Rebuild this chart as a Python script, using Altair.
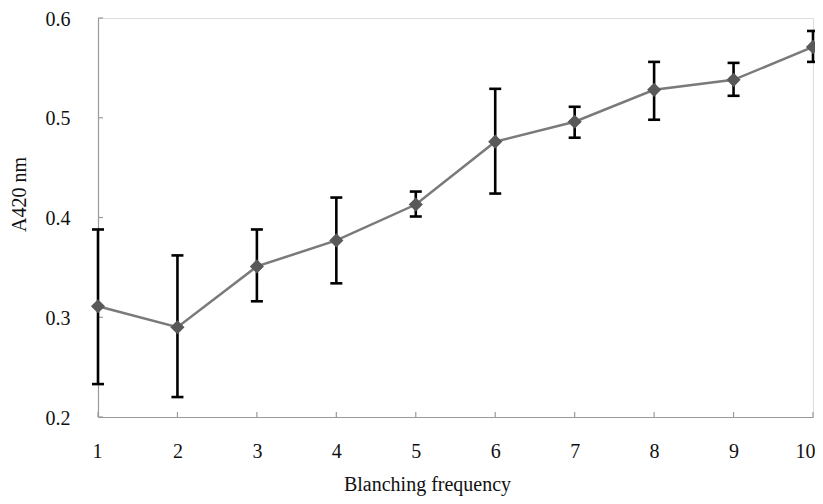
import altair as alt
import pandas as pd

freq = [1, 2, 3, 4, 5, 6, 7, 8, 9, 10]
mean = [0.311, 0.290, 0.351, 0.377, 0.413, 0.476, 0.496, 0.528, 0.538, 0.571]
upper = [0.388, 0.362, 0.388, 0.420, 0.426, 0.529, 0.511, 0.556, 0.555, 0.587]
lower = [0.233, 0.220, 0.316, 0.334, 0.401, 0.424, 0.480, 0.498, 0.522, 0.556]
y_ticks = [0.2, 0.3, 0.4, 0.5, 0.6]

df = pd.DataFrame({"freq": freq, "mean": mean, "upper": upper, "lower": lower})
yt = pd.DataFrame({"v": y_ticks})

W, H = 715, 399
FONT = "Liberation Serif"
AXIS_COLOR = "#9a9a9a"

xs = alt.Scale(domain=[1, 10], nice=False, zero=False)
ys = alt.Scale(domain=[0.2, 0.6], nice=False, zero=False)

x_axis = alt.Axis(
    values=freq, format="d", ticks=False, grid=False, labelPadding=24,
    labelFontSize=20, labelFont=FONT, labelColor="#111",
    labelFlush=False,
    labelAlign=alt.expr("datum.value == 10 ? 'right' : 'center'"),
    labelOffset=alt.expr("datum.value == 10 ? 2 : (datum.value == 1 ? -1 : 0)"),
    domainColor=AXIS_COLOR, domainWidth=1.2,
    title="Blanching frequency", titleFont=FONT, titleFontSize=20,
    titleFontWeight="normal", titleColor="#111",
    titleX=329, titleY=73, titleAlign="center", titleBaseline="alphabetic",
)
y_axis = alt.Axis(
    values=y_ticks, format=".1f", ticks=False, grid=False, labelPadding=28,
    labelFontSize=20, labelFont=FONT, labelColor="#111", labelOffset=1,
    labelFlush=False,
    domainColor=AXIS_COLOR, domainWidth=1.2,
    title="A420 nm", titleFont=FONT, titleFontSize=20,
    titleFontWeight="normal", titleColor="#111",
    titleX=-73, titleY=176, titleAngle=270, titleAlign="center",
    titleBaseline="alphabetic",
)

base = alt.Chart(df)

axes_layer = base.mark_point(opacity=0).encode(
    x=alt.X("freq:Q", scale=xs, axis=x_axis),
    y=alt.Y("mean:Q", scale=ys, axis=y_axis),
)

x_ticks = base.mark_rule(color=AXIS_COLOR, strokeWidth=1.2).encode(
    x=alt.X("freq:Q", scale=xs),
    y=alt.value(H - 5),
    y2=alt.value(H),
)
y_tick_marks = alt.Chart(yt).mark_rule(color=AXIS_COLOR, strokeWidth=1.2).encode(
    y=alt.Y("v:Q", scale=ys),
    x=alt.value(0),
    x2=alt.value(5),
)

err = base.mark_rule(color="#000", strokeWidth=2.6).encode(
    x=alt.X("freq:Q", scale=xs),
    y=alt.Y("lower:Q", scale=ys),
    y2="upper:Q",
)
cap_top = base.mark_rule(color="#000", strokeWidth=2.6, xOffset=-6, x2Offset=6).encode(
    x=alt.X("freq:Q", scale=xs),
    x2="freq:Q",
    y=alt.Y("upper:Q", scale=ys),
)
cap_bot = base.mark_rule(color="#000", strokeWidth=2.6, xOffset=-6, x2Offset=6).encode(
    x=alt.X("freq:Q", scale=xs),
    x2="freq:Q",
    y=alt.Y("lower:Q", scale=ys),
)

line = base.mark_line(color="#7a7a7a", strokeWidth=2.5).encode(
    x=alt.X("freq:Q", scale=xs),
    y=alt.Y("mean:Q", scale=ys),
)
pts = base.mark_point(shape="diamond", filled=True, size=200, color="#595959", opacity=1).encode(
    x=alt.X("freq:Q", scale=xs),
    y=alt.Y("mean:Q", scale=ys),
)

chart = alt.layer(
    axes_layer, x_ticks, y_tick_marks, err, cap_top, cap_bot, line, pts
).properties(
    width=W, height=H,
    autosize=alt.AutoSizeParams(type="none"),
    padding={"left": 90, "top": 10, "right": 2, "bottom": 79},
).configure_view(stroke=None).configure(background="white")

chart.save("out.html", embed_options={"renderer": "svg", "actions": False})
